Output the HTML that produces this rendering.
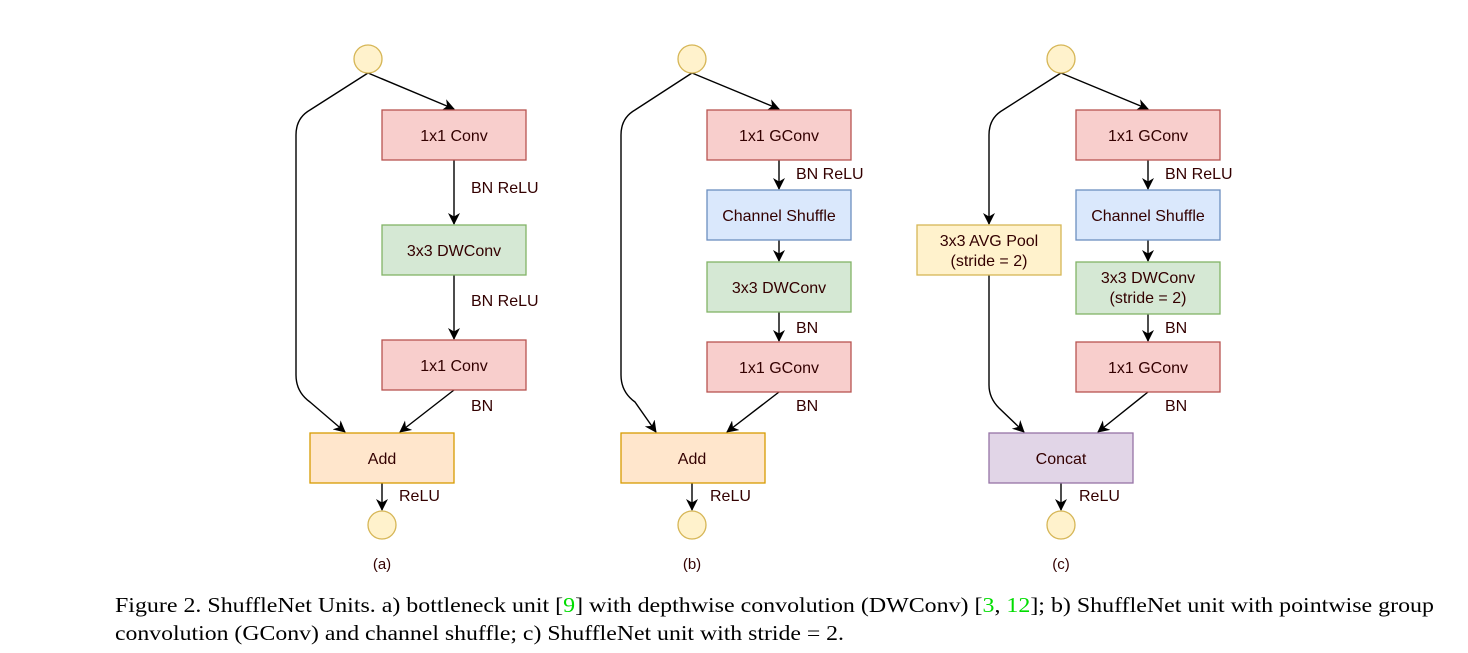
<!DOCTYPE html>
<html><head><meta charset="utf-8"><style>
html,body{margin:0;padding:0;background:#fff;}
svg{display:block;}
.t{font-family:"Liberation Sans",sans-serif;font-size:16px;fill:#330000;}
.c{font-family:"Liberation Serif",serif;font-size:21px;fill:#000;}
</style></head><body>
<svg width="1468" height="653" viewBox="0 0 1468 653" xmlns="http://www.w3.org/2000/svg">
<defs>
<marker id="ar" markerWidth="12" markerHeight="12" refX="11" refY="6" orient="auto" markerUnits="userSpaceOnUse">
<path d="M0,0 L12,6 L0,12 L3.5,6 z" fill="#000"/>
</marker>
</defs>
<g stroke="#000" stroke-width="1.4" fill="none">
<path d="M368,73 L454,109" marker-end="url(#ar)"/>
<path d="M368,73 L310,110 Q296,118 296,135 L296,375 Q296,392 310,402 L345,432" marker-end="url(#ar)"/>
<path d="M454,160 L454,224" marker-end="url(#ar)"/>
<path d="M454,275 L454,339" marker-end="url(#ar)"/>
<path d="M454,390 L400,432" marker-end="url(#ar)"/>
<path d="M382,483 L382,510" marker-end="url(#ar)"/>
<path d="M692,73 L779,109" marker-end="url(#ar)"/>
<path d="M692,73 L635,110 Q621,118 621,135 L621,375 Q621,392 635,402 L656,432" marker-end="url(#ar)"/>
<path d="M779,160 L779,189" marker-end="url(#ar)"/>
<path d="M779,240 L779,261" marker-end="url(#ar)"/>
<path d="M779,312 L779,341" marker-end="url(#ar)"/>
<path d="M779,392 L727,432" marker-end="url(#ar)"/>
<path d="M692,483 L692,510" marker-end="url(#ar)"/>
<path d="M1061,73 L1148,109" marker-end="url(#ar)"/>
<path d="M1061,73 L1003,110 Q989,118 989,135 L989,224" marker-end="url(#ar)"/>
<path d="M989,275 L989,385 Q989,398 999,408 L1024,432" marker-end="url(#ar)"/>
<path d="M1148,160 L1148,189" marker-end="url(#ar)"/>
<path d="M1148,240 L1148,261" marker-end="url(#ar)"/>
<path d="M1148,314 L1148,341" marker-end="url(#ar)"/>
<path d="M1148,392 L1098,432" marker-end="url(#ar)"/>
<path d="M1061,483 L1061,510" marker-end="url(#ar)"/>
</g>
<g stroke-width="1.3">
<circle cx="368" cy="59" r="14" fill="#fff2cc" stroke="#d6b656"/>
<circle cx="382" cy="525" r="14" fill="#fff2cc" stroke="#d6b656"/>
<circle cx="692" cy="59" r="14" fill="#fff2cc" stroke="#d6b656"/>
<circle cx="692" cy="525" r="14" fill="#fff2cc" stroke="#d6b656"/>
<circle cx="1061" cy="59" r="14" fill="#fff2cc" stroke="#d6b656"/>
<circle cx="1061" cy="525" r="14" fill="#fff2cc" stroke="#d6b656"/>
<rect x="382" y="110" width="144" height="50" fill="#f8cecc" stroke="#b85450"/>
<rect x="382" y="225" width="144" height="50" fill="#d5e8d4" stroke="#82b366"/>
<rect x="382" y="340" width="144" height="50" fill="#f8cecc" stroke="#b85450"/>
<rect x="310" y="433" width="144" height="50" fill="#ffe6cc" stroke="#d79b00"/>
<rect x="707" y="110" width="144" height="50" fill="#f8cecc" stroke="#b85450"/>
<rect x="707" y="190" width="144" height="50" fill="#dae8fc" stroke="#6c8ebf"/>
<rect x="707" y="262" width="144" height="50" fill="#d5e8d4" stroke="#82b366"/>
<rect x="707" y="342" width="144" height="50" fill="#f8cecc" stroke="#b85450"/>
<rect x="621" y="433" width="144" height="50" fill="#ffe6cc" stroke="#d79b00"/>
<rect x="1076" y="110" width="144" height="50" fill="#f8cecc" stroke="#b85450"/>
<rect x="1076" y="190" width="144" height="50" fill="#dae8fc" stroke="#6c8ebf"/>
<rect x="1076" y="262" width="144" height="52" fill="#d5e8d4" stroke="#82b366"/>
<rect x="1076" y="342" width="144" height="50" fill="#f8cecc" stroke="#b85450"/>
<rect x="917" y="225" width="144" height="50" fill="#fff2cc" stroke="#d6b656"/>
<rect x="989" y="433" width="144" height="50" fill="#e1d5e7" stroke="#9673a6"/>
</g>
<g class="t" text-anchor="middle">
<text x="454" y="141">1x1 Conv</text>
<text x="454" y="256">3x3 DWConv</text>
<text x="454" y="371">1x1 Conv</text>
<text x="382" y="464">Add</text>
<text x="382" y="569" style="font-size:15px">(a)</text>
<text x="779" y="141">1x1 GConv</text>
<text x="779" y="221">Channel Shuffle</text>
<text x="779" y="293">3x3 DWConv</text>
<text x="779" y="373">1x1 GConv</text>
<text x="692" y="464">Add</text>
<text x="692" y="569" style="font-size:15px">(b)</text>
<text x="1148" y="141">1x1 GConv</text>
<text x="1148" y="221">Channel Shuffle</text>
<text x="1148" y="283">3x3 DWConv</text>
<text x="1148" y="303">(stride = 2)</text>
<text x="1148" y="373">1x1 GConv</text>
<text x="989" y="246">3x3 AVG Pool</text>
<text x="989" y="266">(stride = 2)</text>
<text x="1061" y="464">Concat</text>
<text x="1061" y="569" style="font-size:15px">(c)</text>
</g>
<g class="t">
<text x="471" y="193">BN ReLU</text>
<text x="471" y="306">BN ReLU</text>
<text x="471" y="411">BN</text>
<text x="399" y="501">ReLU</text>
<text x="796" y="179">BN ReLU</text>
<text x="796" y="333">BN</text>
<text x="796" y="411">BN</text>
<text x="710" y="501">ReLU</text>
<text x="1165" y="179">BN ReLU</text>
<text x="1165" y="333">BN</text>
<text x="1165" y="411">BN</text>
<text x="1079" y="501">ReLU</text>
</g>
<text class="c" x="115" y="612" textLength="1319" lengthAdjust="spacingAndGlyphs">Figure 2. ShuffleNet Units. a) bottleneck unit [<tspan fill="#00dd00">9</tspan>] with depthwise convolution (DWConv) [<tspan fill="#00dd00">3</tspan>, <tspan fill="#00dd00">12</tspan>]; b) ShuffleNet unit with pointwise group</text>
<text class="c" x="115" y="640" textLength="729" lengthAdjust="spacingAndGlyphs">convolution (GConv) and channel shuffle; c) ShuffleNet unit with stride = 2.</text>
</svg>
</body></html>
